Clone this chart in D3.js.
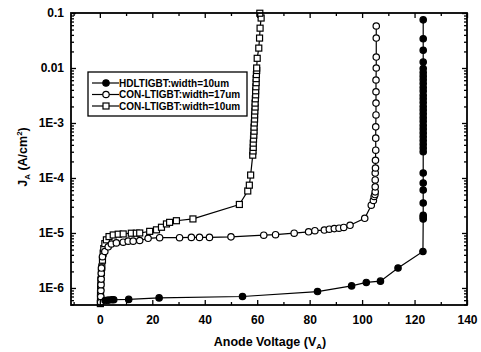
<!DOCTYPE html>
<html>
<head>
<meta charset="utf-8">
<script src="https://cdn.jsdelivr.net/npm/d3@7"></script>
<style>
  body { margin: 0; background: #fff; }
  svg { font-family: "Liberation Sans", Arial, sans-serif; font-weight: bold; }
</style>
</head>
<body>
<div id="chart"></div>
<script>
// HDLTIGBT width=10um (filled circles)
const hdlV = [2.0, 3.2, 4.5, 5.3, 11.0, 22.6, 54.4, 83.0, 96.0, 101.6, 107.0, 113.7, 123.2,
  123.3, 123.3, 123.3, 123.3, 123.3, 123.3, 123.3, 123.3, 123.3, 123.3, 123.3, 123.3, 123.3,
  123.3, 123.3, 123.3, 123.3, 123.3, 123.3, 123.3, 123.3, 123.3, 123.3, 123.3, 123.3, 123.3,
  123.3, 123.3, 123.3, 123.3, 123.3, 123.3, 123.3, 123.3];
const hdlJ = [5.9e-7, 6.0e-7, 6.1e-7, 6.1e-7, 6.2e-7, 6.6e-7, 7.0e-7, 8.6e-7, 1.09e-6, 1.26e-6, 1.33e-6, 2.3e-6, 4.6e-6,
  1.8e-5, 1.95e-5, 2.1e-5, 3.5e-5, 6.05e-5, 8.1e-5, 1.23e-4, 3.0e-4, 3.5e-4, 4.1e-4, 4.8e-4,
  5.6e-4, 6.6e-4, 7.8e-4, 9.1e-4, 1.07e-3, 1.25e-3, 1.47e-3, 1.72e-3, 2.0e-3, 2.35e-3, 2.75e-3,
  3.2e-3, 3.8e-3, 4.4e-3, 5.2e-3, 6.1e-3, 7.1e-3, 8.3e-3, 9.8e-3, 0.0128, 0.021, 0.034, 0.075];

// CON-LTIGBT width=17um (open circles)
const con17V = [0.3, 0.35, 0.4, 0.45, 0.5, 0.55, 0.6, 1.0, 1.9, 3.2, 4.4, 6.3, 8.9, 10.8, 12.7, 15.2,
  18.4, 22.8, 30.4, 34.9, 38.0, 41.8, 50.0, 62.5, 67.0, 74.1, 79.6, 82.0, 85.6, 87.5, 89.4, 91.2,
  93.0, 95.4, 101.0, 103.5, 104.3, 104.6, 104.9, 105.0, 105.0, 105.0, 105.0, 105.1, 105.1, 105.2,
  105.2, 105.2, 105.3, 105.3, 105.3, 105.3, 105.4, 105.4, 105.4, 105.4];
const con17J = [5.5e-7, 7.0e-7, 9.0e-7, 1.15e-6, 1.45e-6, 1.85e-6, 2.3e-6, 3.7e-6, 4.6e-6, 5.6e-6,
  6.3e-6, 6.6e-6, 6.8e-6, 7.1e-6, 7.1e-6, 7.3e-6, 8.0e-6, 8.2e-6, 8.2e-6, 8.3e-6, 8.3e-6, 8.3e-6,
  8.5e-6, 9.1e-6, 9.3e-6, 9.9e-6, 1.05e-5, 1.1e-5, 1.13e-5, 1.17e-5, 1.2e-5, 1.22e-5, 1.26e-5,
  1.38e-5, 1.85e-5, 3.2e-5, 3.9e-5, 4.6e-5, 5.0e-5, 5.6e-5, 6.9e-5, 9.2e-5, 1.23e-4, 1.52e-4,
  2.1e-4, 3.2e-4, 5.3e-4, 8.5e-4, 1.4e-3, 2.3e-3, 3.7e-3, 6.05e-3, 0.01, 0.0158, 0.035, 0.058];

// CON-LTIGBT width=10um (open squares)
const con10V = [0.2, 0.25, 0.26, 0.3, 0.38, 0.6, 0.76, 1.0, 1.27, 1.5, 1.9, 2.5, 3.5, 5.1, 7.0, 8.9,
  12.0, 13.9, 15.2, 19.0, 21.6, 23.5, 25.4, 26.6, 29.2, 35.5, 53.2, 56.4, 57.0, 57.5,
  58.3, 58.4, 58.5, 58.5, 58.6, 58.7, 58.8, 58.8, 58.9, 59.0, 59.0, 59.1, 59.2, 59.2, 59.3,
  59.4, 59.4, 59.5, 59.6, 59.6, 59.7, 59.8, 59.8, 60.0, 60.6, 60.9, 61.1, 61.5, 61.0];
const con10J = [5.2e-7, 6.5e-7, 8.0e-7, 1.05e-6, 1.4e-6, 1.9e-6, 2.4e-6, 3.2e-6, 4.3e-6, 5.2e-6,
  6.4e-6, 7.5e-6, 8.6e-6, 9.2e-6, 9.5e-6, 9.6e-6, 9.9e-6, 9.9e-6, 1.0e-5, 1.07e-5, 1.14e-5,
  1.27e-5, 1.46e-5, 1.56e-5, 1.67e-5, 1.8e-5, 3.3e-5, 5.8e-5, 7.4e-5, 1.13e-4,
  2.6e-4, 3.1e-4, 3.6e-4, 4.3e-4, 5.1e-4, 6.0e-4, 7.1e-4, 8.4e-4, 1.0e-3, 1.18e-3, 1.4e-3,
  1.65e-3, 1.95e-3, 2.3e-3, 2.75e-3, 3.25e-3, 3.85e-3, 4.55e-3, 5.4e-3, 6.4e-3, 7.6e-3, 9.0e-3,
  1.0e-2, 0.015, 0.023, 0.035, 0.053, 0.081, 0.099];

const seriesNames = ["HDLTIGBT:width=10um", "CON-LTIGBT:width=17um", "CON-LTIGBT:width=10um"];
const xTicks = [0, 20, 40, 60, 80, 100, 120, 140];
const yTicks = [1e-6, 1e-5, 1e-4, 1e-3, 0.01, 0.1];
const yTickLabels = ["1E-6", "1E-5", "1E-4", "1E-3", "0.01", "0.1"];

const width = 481, height = 352;
const margin = { top: 13, right: 14, bottom: 47, left: 71 };

const svg = d3.select('#chart').append('svg')
  .attr('width', width).attr('height', height);

const x = d3.scaleLinear().domain([-11, 140]).range([margin.left, width - margin.right]);
const y = d3.scaleLog().domain([4.9e-7, 0.1]).range([height - margin.bottom, margin.top]);

const series = [
  { name: seriesNames[0], pts: hdlV.map((v, i) => [v, hdlJ[i]]), shape: 'circle', fill: '#000' },
  { name: seriesNames[1], pts: con17V.map((v, i) => [v, con17J[i]]), shape: 'circle', fill: '#fff' },
  { name: seriesNames[2], pts: con10V.map((v, i) => [v, con10J[i]]), shape: 'square', fill: '#fff' },
];

// minor tick positions
const xMinor = d3.range(-10, 141, 10).filter(v => v % 20 !== 0);
const yMinor = [];
[-7, -6, -5, -4, -3, -2].forEach(e => {
  for (let m = 2; m <= 9; m++) {
    const v = m * Math.pow(10, e);
    if (v >= 4.9e-7 && v < 0.1) yMinor.push(v);
  }
});

const line = d3.line().x(d => x(d[0])).y(d => y(d[1]));
const plot = svg.append('g');

series.forEach(s => {
  plot.append('path').datum(s.pts)
    .attr('d', line).attr('fill', 'none').attr('stroke', '#000').attr('stroke-width', 1.2);
});

function drawMarker(g, shape, fill, cx, cy) {
  if (shape === 'circle') {
    g.append('circle').attr('cx', cx).attr('cy', cy).attr('r', 3.2)
      .attr('fill', fill).attr('stroke', '#000').attr('stroke-width', 1.2);
  } else {
    g.append('rect').attr('x', cx - 3).attr('y', cy - 3).attr('width', 6).attr('height', 6)
      .attr('fill', fill).attr('stroke', '#000').attr('stroke-width', 1.2);
  }
}

series.slice().reverse().forEach(s => {
  const g = plot.append('g');
  s.pts.forEach(p => drawMarker(g, s.shape, s.fill, x(p[0]), y(p[1])));
});

// axes
const bottomY = height - margin.bottom;
const rightX = width - margin.right;

function styleAxis(g) {
  g.select('.domain').remove();
  g.selectAll('.tick line').attr('stroke', '#000').attr('stroke-width', 1.3);
  g.selectAll('.tick text').attr('fill', '#000').attr('font-size', '12px').attr('font-weight', 'bold');
}

svg.append('g').attr('transform', `translate(0,${bottomY})`)
  .call(d3.axisBottom(x).tickValues(xTicks).tickSize(-5).tickPadding(10).tickFormat(d3.format('d')))
  .call(styleAxis);
svg.append('g').attr('transform', `translate(0,${bottomY})`)
  .call(d3.axisBottom(x).tickValues(xMinor).tickSize(-3).tickFormat(''))
  .call(styleAxis);
svg.append('g').attr('transform', `translate(0,${margin.top})`)
  .call(d3.axisTop(x).tickValues(xTicks).tickSize(-5).tickFormat(''))
  .call(styleAxis);
svg.append('g').attr('transform', `translate(0,${margin.top})`)
  .call(d3.axisTop(x).tickValues(xMinor).tickSize(-3).tickFormat(''))
  .call(styleAxis);

svg.append('g').attr('transform', `translate(${margin.left},0)`)
  .call(d3.axisLeft(y).tickValues(yTicks).tickSize(-5).tickPadding(7)
    .tickFormat((d, i) => yTickLabels[i]))
  .call(styleAxis);
svg.append('g').attr('transform', `translate(${margin.left},0)`)
  .call(d3.axisLeft(y).tickValues(yMinor).tickSize(-3).tickFormat(''))
  .call(styleAxis);
svg.append('g').attr('transform', `translate(${rightX},0)`)
  .call(d3.axisRight(y).tickValues(yTicks).tickSize(-5).tickFormat(''))
  .call(styleAxis);
svg.append('g').attr('transform', `translate(${rightX},0)`)
  .call(d3.axisRight(y).tickValues(yMinor).tickSize(-3).tickFormat(''))
  .call(styleAxis);

// frame
svg.append('rect')
  .attr('x', margin.left).attr('y', margin.top)
  .attr('width', rightX - margin.left).attr('height', bottomY - margin.top)
  .attr('fill', 'none').attr('stroke', '#000').attr('stroke-width', 1.8);

// axis titles
const xt = svg.append('text').attr('x', 270).attr('y', 346)
  .attr('text-anchor', 'middle').attr('font-size', '12.5px');
xt.append('tspan').text('Anode Voltage (V');
xt.append('tspan').attr('font-size', '8px').attr('dy', 3).text('A');
xt.append('tspan').attr('dy', -3).text(')');

const yt = svg.append('text').attr('transform', 'translate(27,157) rotate(-90)')
  .attr('text-anchor', 'middle').attr('font-size', '12.5px');
yt.append('tspan').text('J');
yt.append('tspan').attr('font-size', '8px').attr('dy', 3).text('A');
yt.append('tspan').attr('dy', -3).text(' (A/cm');
yt.append('tspan').attr('font-size', '8px').attr('dy', -5).text('2');
yt.append('tspan').attr('dy', 5).text(')');

// legend
const legend = svg.append('g');
legend.append('rect').attr('x', 88).attr('y', 72).attr('width', 159).attr('height', 44)
  .attr('fill', '#fff').attr('stroke', '#000').attr('stroke-width', 1.3);
series.forEach((s, i) => {
  const ly = 83 + i * 11.5;
  legend.append('line').attr('x1', 92).attr('x2', 119).attr('y1', ly).attr('y2', ly)
    .attr('stroke', '#000').attr('stroke-width', 1.2);
  drawMarker(legend, s.shape, s.fill, 106, ly);
  legend.append('text').attr('x', 119).attr('y', ly + 3.5)
    .attr('font-size', '10px').text(s.name);
});
</script>
</body>
</html>
